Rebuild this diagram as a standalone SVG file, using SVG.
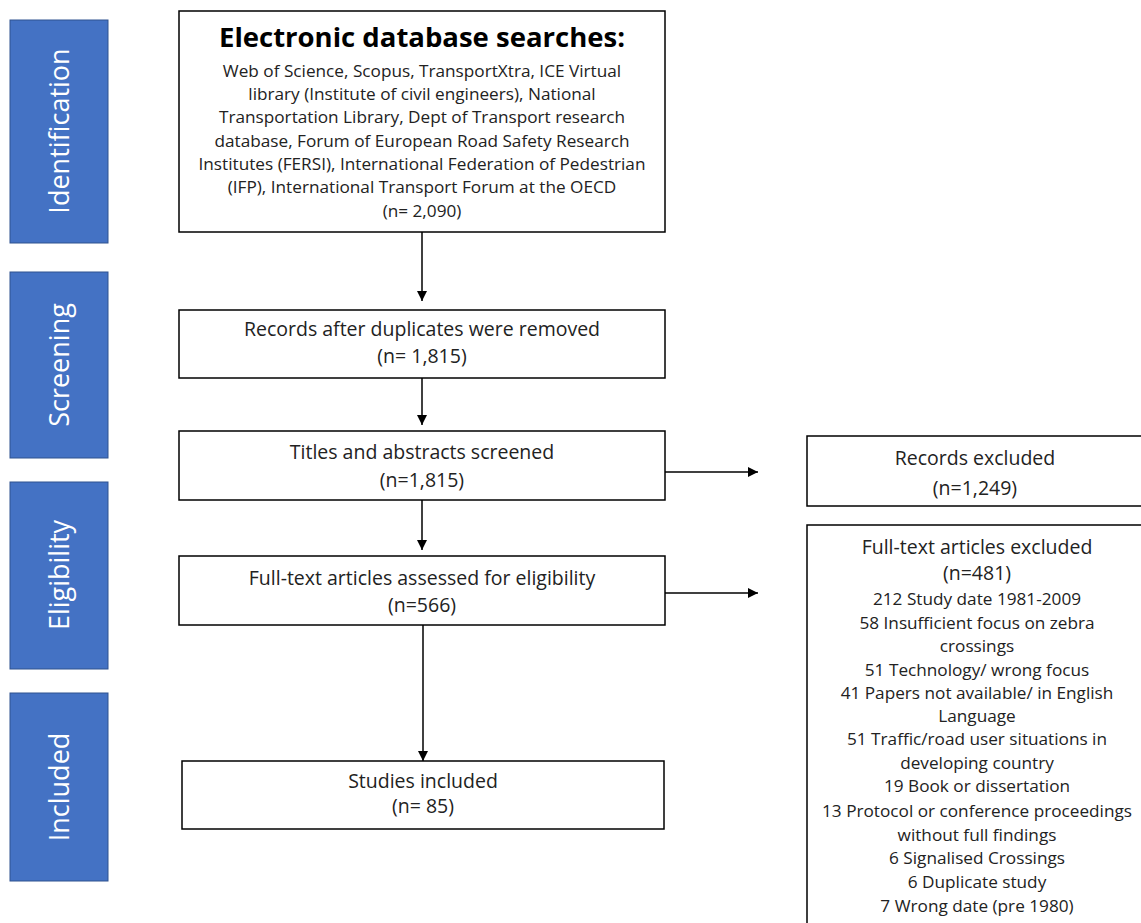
<svg xmlns="http://www.w3.org/2000/svg" width="1141" height="923" viewBox="0 0 1141 923">
<defs>
<marker id="arr" viewBox="0 0 10 10" refX="10" refY="5" markerWidth="10" markerHeight="10" markerUnits="userSpaceOnUse" orient="auto">
<path d="M0,0 L10,5 L0,10 Z" fill="#000"/>
</marker>
</defs>
<style>
.stage{fill:#4472C4;stroke:#2F528F;stroke-width:1}
.stxt{font-family:"Open Sans","Liberation Sans",sans-serif;font-size:27px;fill:#fff;text-anchor:middle}
.box{fill:#fff;stroke:#000;stroke-width:1.5}
.t{font-family:"Open Sans","Liberation Sans",sans-serif;font-size:19.5px;fill:#222;text-anchor:middle}
.ts{font-family:"Open Sans","Liberation Sans",sans-serif;font-size:17.2px;fill:#222;text-anchor:middle}
.title{font-family:"Open Sans","Liberation Sans",sans-serif;font-size:27.5px;font-weight:bold;fill:#000;text-anchor:middle}
.conn{stroke:#000;stroke-width:1.5;fill:none}
</style>
<rect width="1141" height="923" fill="#fff"/>

<g id="stage-identification">
<rect class="stage" x="10" y="20" width="98" height="223"/>
<text class="stxt" transform="translate(69,131) rotate(-90)">Identification</text>
</g>
<g id="stage-screening">
<rect class="stage" x="10" y="272" width="98" height="186"/>
<text class="stxt" transform="translate(69,365) rotate(-90)">Screening</text>
</g>
<g id="stage-eligibility">
<rect class="stage" x="10" y="482" width="98" height="187"/>
<text class="stxt" transform="translate(69,575) rotate(-90)">Eligibility</text>
</g>
<g id="stage-included">
<rect class="stage" x="10" y="693" width="98" height="188"/>
<text class="stxt" transform="translate(69,787) rotate(-90)">Included</text>
</g>

<g id="node-search">
<rect class="box" x="179" y="11" width="486" height="221"/>
<text class="title" x="422" y="47">Electronic database searches:</text>
<text class="ts" x="422" y="77">Web of Science, Scopus, TransportXtra, ICE Virtual</text>
<text class="ts" x="422" y="100">library (Institute of civil engineers), National</text>
<text class="ts" x="422" y="123">Transportation Library, Dept of Transport research</text>
<text class="ts" x="422" y="147">database, Forum of European Road Safety Research</text>
<text class="ts" x="422" y="170">Institutes (FERSI), International Federation of Pedestrian</text>
<text class="ts" x="422" y="193">(IFP), International Transport Forum at the OECD</text>
<text class="ts" x="422" y="217">(n= 2,090)</text>
</g>

<g id="node-dedup">
<rect class="box" x="179" y="310" width="486" height="68"/>
<text class="t" x="422" y="336">Records after duplicates were removed</text>
<text class="t" x="422" y="363">(n= 1,815)</text>
</g>

<g id="node-screened">
<rect class="box" x="179" y="431" width="486" height="69"/>
<text class="t" x="422" y="459">Titles and abstracts screened</text>
<text class="t" x="422" y="487">(n=1,815)</text>
</g>

<g id="node-fulltext">
<rect class="box" x="179" y="556" width="486" height="69"/>
<text class="t" x="422" y="585">Full-text articles assessed for eligibility</text>
<text class="t" x="422" y="612">(n=566)</text>
</g>

<g id="node-included">
<rect class="box" x="182" y="761" width="482" height="68"/>
<text class="t" x="423" y="788">Studies included</text>
<text class="t" x="423" y="813">(n= 85)</text>
</g>

<g id="node-records-excluded">
<rect class="box" x="807" y="436" width="345" height="70"/>
<text class="t" x="975" y="465">Records excluded</text>
<text class="t" x="975" y="495">(n=1,249)</text>
</g>

<g id="node-fulltext-excluded">
<rect class="box" x="807" y="525" width="345" height="410"/>
<text class="t" x="977" y="554">Full-text articles excluded</text>
<text class="t" x="977" y="580">(n=481)</text>
<text class="ts" x="977" y="605">212 Study date 1981-2009</text>
<text class="ts" x="977" y="629">58 Insufficient focus on zebra</text>
<text class="ts" x="977" y="652">crossings</text>
<text class="ts" x="977" y="676">51 Technology/ wrong focus</text>
<text class="ts" x="977" y="699">41 Papers not available/ in English</text>
<text class="ts" x="977" y="722">Language</text>
<text class="ts" x="977" y="745">51 Traffic/road user situations in</text>
<text class="ts" x="977" y="769">developing country</text>
<text class="ts" x="977" y="792">19 Book or dissertation</text>
<text class="ts" x="977" y="817">13 Protocol or conference proceedings</text>
<text class="ts" x="977" y="841">without full findings</text>
<text class="ts" x="977" y="864">6 Signalised Crossings</text>
<text class="ts" x="977" y="888">6 Duplicate study</text>
<text class="ts" x="977" y="912">7 Wrong date (pre 1980)</text>
</g>

<g id="connectors">
<line class="conn" x1="422" y1="232" x2="422" y2="301" marker-end="url(#arr)"/>
<line class="conn" x1="422" y1="378" x2="422" y2="425" marker-end="url(#arr)"/>
<line class="conn" x1="422" y1="500" x2="422" y2="550" marker-end="url(#arr)"/>
<line class="conn" x1="423" y1="625" x2="423" y2="761" marker-end="url(#arr)"/>
<line class="conn" x1="665" y1="472" x2="758" y2="472" marker-end="url(#arr)"/>
<line class="conn" x1="665" y1="593" x2="758" y2="593" marker-end="url(#arr)"/>
</g>
</svg>
